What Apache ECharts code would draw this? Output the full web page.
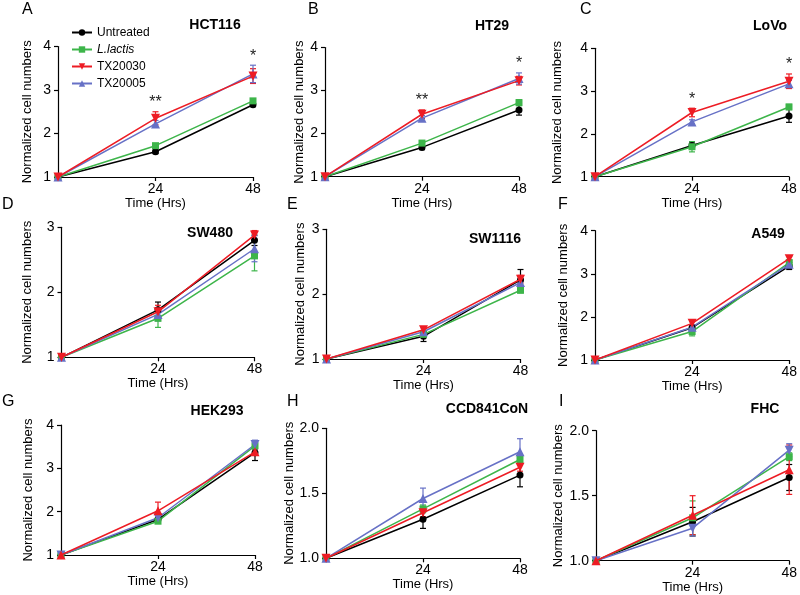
<!DOCTYPE html>
<html><head><meta charset="utf-8">
<script src="https://cdn.jsdelivr.net/npm/echarts@6/dist/echarts.min.js"></script>
<style>html,body{margin:0;padding:0;background:#fff}#c{width:800px;height:595px}</style>
</head><body><div id="c"></div><script>
// ---------- DATA ----------
const times = [0, 24, 48];
const groupNames = ['Untreated', 'L.lactis', 'TX20030', 'TX20005'];
const panelLetters = ['A', 'B', 'C', 'D', 'E', 'F', 'G', 'H', 'I'];
const cellLines = ['HCT116', 'HT29', 'LoVo', 'SW480', 'SW1116', 'A549', 'HEK293', 'CCD841CoN', 'FHC'];
const yMins = [1, 1, 1, 1, 1, 1, 1, 1.0, 1.0];
const yMaxs = [4, 4, 4, 3, 3, 4, 4, 2.0, 2.0];
const ySteps = [1, 1, 1, 1, 1, 1, 1, 0.5, 0.5];
const xAxisTitle = 'Time (Hrs)';
const yAxisTitle = 'Normalized cell numbers';

// mean values: [Untreated, L.lactis, TX20030, TX20005] at 0, 24, 48 h
const hct116Mean = [[1, 1.58, 2.66], [1, 1.72, 2.75], [1, 2.35, 3.32], [1, 2.22, 3.37]];
const hct116Err  = [[0, 0.04, 0.04], [0, 0.05, 0.05], [0, 0.15, 0.17], [0, 0.08, 0.20]];
const hct116Sig  = ['', '**', '*'];

const ht29Mean = [[1, 1.68, 2.55], [1, 1.78, 2.72], [1, 2.45, 3.23], [1, 2.36, 3.28]];
const ht29Err  = [[0, 0.05, 0.12], [0, 0.06, 0.07], [0, 0.10, 0.10], [0, 0.06, 0.13]];
const ht29Sig  = ['', '**', '*'];

const lovoMean = [[1, 1.73, 2.42], [1, 1.70, 2.63], [1, 2.50, 3.23], [1, 2.28, 3.17]];
const lovoErr  = [[0, 0.08, 0.15], [0, 0.12, 0.06], [0, 0.10, 0.17], [0, 0.05, 0.08]];
const lovoSig  = ['', '*', '*'];

const sw480Mean = [[1, 1.73, 2.80], [1, 1.60, 2.56], [1, 1.70, 2.88], [1, 1.66, 2.67]];
const sw480Err  = [[0, 0.12, 0.08], [0, 0.14, 0.23], [0, 0.10, 0.07], [0, 0.10, 0.20]];

const sw1116Mean = [[1, 1.35, 2.22], [1, 1.38, 2.06], [1, 1.45, 2.23], [1, 1.42, 2.18]];
const sw1116Err  = [[0, 0.08, 0.16], [0, 0.04, 0.04], [0, 0.05, 0.06], [0, 0.06, 0.05]];

const a549Mean = [[1, 1.75, 3.18], [1, 1.66, 3.26], [1, 1.85, 3.35], [1, 1.76, 3.22]];
const a549Err  = [[0, 0.06, 0.08], [0, 0.10, 0.06], [0, 0.04, 0.05], [0, 0.05, 0.05]];

const hek293Mean = [[1, 1.82, 3.36], [1, 1.78, 3.52], [1, 2.02, 3.38], [1, 1.86, 3.55]];
const hek293Err  = [[0, 0.05, 0.18], [0, 0.04, 0.05], [0, 0.20, 0.05], [0, 0.04, 0.10]];

const ccd841Mean = [[1, 1.30, 1.64], [1, 1.38, 1.76], [1, 1.35, 1.70], [1, 1.46, 1.82]];
const ccd841Err  = [[0, 0.07, 0.09], [0, 0.03, 0.03], [0, 0.03, 0.03], [0, 0.08, 0.10]];

const fhcMean = [[1, 1.30, 1.64], [1, 1.33, 1.80], [1, 1.35, 1.70], [1, 1.25, 1.85]];
const fhcErr  = [[0, 0.11, 0.10], [0, 0.13, 0.03], [0, 0.15, 0.19], [0, 0.06, 0.05]];

const panelMeans = [hct116Mean, ht29Mean, lovoMean, sw480Mean, sw1116Mean, a549Mean, hek293Mean, ccd841Mean, fhcMean];
const panelErrs = [hct116Err, ht29Err, lovoErr, sw480Err, sw1116Err, a549Err, hek293Err, ccd841Err, fhcErr];
const panelSigs = [hct116Sig, ht29Sig, lovoSig, null, null, null, null, null, null];

// ---------- STYLE / LAYOUT ----------
const FONT = 'Liberation Sans, Arial, Helvetica, sans-serif';
const colors = ['#000000', '#3db54a', '#ed1c24', '#6771c6'];
const symbols = ['circle', 'rect', 'triangle', 'triangle'];
const symbolSizes = [7, 7, 9, 9];
const layout = [
  {l: 58, t: 46.5, w: 195, h: 130.5, letter: [22, 2], title: [215, 26], yGap: 24},
  {l: 325, t: 47.5, w: 194, h: 129.2, letter: [308, 2], title: [492, 27], yGap: 19},
  {l: 595, t: 48.3, w: 194, h: 128.4, letter: [580, 2], title: [770, 27], yGap: 31},
  {l: 61.5, t: 227.3, w: 193, h: 130, letter: [2, 197], title: [210, 234], yGap: 28},
  {l: 326.5, t: 229.3, w: 194, h: 129.7, letter: [287, 197], title: [495, 240], yGap: 20},
  {l: 595, t: 230.7, w: 195, h: 129.3, letter: [558, 197], title: [768, 235], yGap: 25},
  {l: 61, t: 425, w: 194, h: 130, letter: [2, 394], title: [217, 412], yGap: 26},
  {l: 326, t: 428.3, w: 194, h: 130, letter: [287, 394], title: [487, 410], yGap: 21},
  {l: 596, t: 430.7, w: 194, h: 130, letter: [559, 394], title: [765, 410], yGap: 31}
];
// triangle orientation per panel: true -> TX20030 drawn as upward triangle
const swapTriangles = [false, false, false, false, false, false, true, false, true];

const grids = [], xAxes = [], yAxes = [], series = [], titles = [];
const axisLineStyle = {color: '#000', width: 1.2};

layout.forEach((L, p) => {
  grids.push({left: L.l, top: L.t, width: L.w, height: L.h, containLabel: false});
  xAxes.push({
    type: 'value', gridIndex: p, min: 0, max: 48, interval: 24,
    axisLine: {show: true, onZero: false, lineStyle: axisLineStyle},
    axisTick: {show: true, length: 4, lineStyle: axisLineStyle},
    splitLine: {show: false},
    axisLabel: {color: '#000', fontSize: 14, fontFamily: FONT, margin: 5,
      formatter: v => (v === 0 ? '' : String(v))},
    name: xAxisTitle, nameLocation: 'middle', nameGap: 17,
    nameTextStyle: {color: '#000', fontSize: 13, fontFamily: FONT}
  });
  const step = ySteps[p];
  yAxes.push({
    type: 'value', gridIndex: p, min: yMins[p], max: yMaxs[p], interval: step,
    axisLine: {show: true, onZero: false, lineStyle: axisLineStyle},
    axisTick: {show: true, length: 4, lineStyle: axisLineStyle},
    splitLine: {show: false},
    axisLabel: {color: '#000', fontSize: 14, fontFamily: FONT, margin: 7,
      formatter: v => (step < 1 ? v.toFixed(1) : String(v))},
    name: yAxisTitle, nameLocation: 'middle', nameGap: L.yGap,
    nameTextStyle: {color: '#000', fontSize: 13, fontFamily: FONT}
  });

  titles.push({text: panelLetters[p], left: L.letter[0], top: L.letter[1], padding: 0,
    textStyle: {fontSize: 16, fontWeight: 'normal', color: '#000', fontFamily: FONT}});
  titles.push({text: cellLines[p], left: L.title[0], top: L.title[1] - 8, padding: 0, textAlign: 'center',
    textStyle: {fontSize: 14, fontWeight: 'bold', color: '#000', fontFamily: FONT}});

  const means = panelMeans[p], errs = panelErrs[p];
  // error bars first (under markers)
  groupNames.forEach((g, s) => {
    const col = colors[s];
    series.push({
      type: 'custom', xAxisIndex: p, yAxisIndex: p, silent: true, clip: false, z: 2,
      encode: {x: 0, y: 1},
      data: times.map((t, k) => [t, means[s][k], errs[s][k]]).filter(d => d[2] > 0),
      renderItem: (params, api) => {
        const x = api.value(0), y = api.value(1), e = api.value(2);
        const a = api.coord([x, y + e]), b = api.coord([x, y - e]);
        const hw = 3;
        const st = {stroke: col, lineWidth: 1.2};
        return {type: 'group', children: [
          {type: 'line', shape: {x1: a[0], y1: a[1], x2: b[0], y2: b[1]}, style: st},
          {type: 'line', shape: {x1: a[0] - hw, y1: a[1], x2: a[0] + hw, y2: a[1]}, style: st},
          {type: 'line', shape: {x1: b[0] - hw, y1: b[1], x2: b[0] + hw, y2: b[1]}, style: st}
        ]};
      }
    });
  });
  // lines with markers
  groupNames.forEach((g, s) => {
    let rot = 0;
    if (s === 2) rot = swapTriangles[p] ? 0 : 180;
    if (s === 3) rot = swapTriangles[p] ? 180 : 0;
    series.push({
      type: 'line', name: g, xAxisIndex: p, yAxisIndex: p, clip: false, z: 3 + (s === 2 ? 1 : 0),
      data: times.map((t, k) => [t, means[s][k]]),
      symbol: symbols[s], symbolSize: symbolSizes[s], symbolRotate: rot, showAllSymbol: true,
      lineStyle: {color: colors[s], width: 1.5},
      itemStyle: {color: colors[s]},
      emphasis: {disabled: true},
      animation: false
    });
  });
  // significance stars
  const sig = panelSigs[p];
  if (sig) {
    const tops = times.map((t, k) => Math.max(...means.map((m, s) => m[k] + errs[s][k])));
    series.push({
      type: 'custom', xAxisIndex: p, yAxisIndex: p, silent: true, clip: false, z: 5,
      encode: {x: 0, y: 1},
      data: times.map((t, k) => [t, tops[k]]),
      renderItem: (params, api) => {
        const txt = sig[params.dataIndex];
        if (!txt) return null;
        const c = api.coord([api.value(0), api.value(1)]);
        return {type: 'text', x: c[0], y: c[1] - 1,
          style: {text: txt, fill: '#222', fontSize: 16, fontFamily: FONT, align: 'center', verticalAlign: 'bottom'}};
      }
    });
  }
});

const option = {
  backgroundColor: '#fff',
  animation: false,
  title: titles,
  grid: grids,
  xAxis: xAxes,
  yAxis: yAxes,
  legend: {
    data: groupNames, orient: 'vertical', left: 66, top: 21,
    itemWidth: 20, itemHeight: 8, itemGap: 4, selectedMode: false,
    textStyle: {fontSize: 12, color: '#000', fontFamily: FONT, lineHeight: 13,
      rich: {i: {fontStyle: 'italic', fontSize: 12, fontFamily: FONT, color: '#000'}}},
    formatter: n => (n === 'L.lactis' ? '{i|L.lactis}' : n)
  },
  series: series
};
const chart = echarts.init(document.getElementById('c'), null, {renderer: 'canvas'});
chart.setOption(option);
</script></body></html>
